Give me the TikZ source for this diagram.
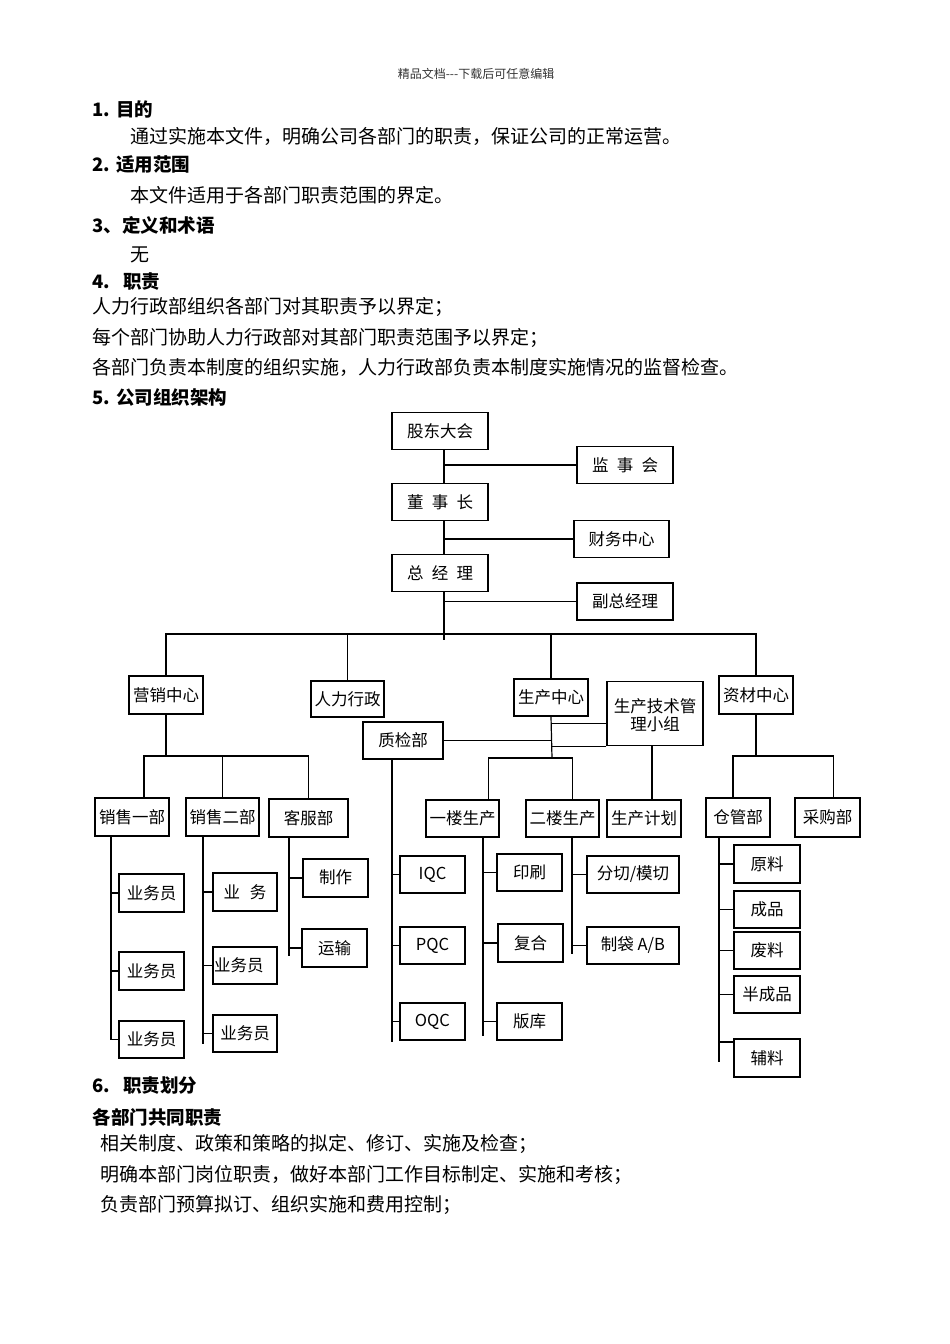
\documentclass[tikz,border=0pt]{standalone}
\usepackage{fontspec}
\setmainfont{Noto Sans CJK SC}
\usetikzlibrary{calc}
\newcommand{\bodyfont}{\fontsize{19}{20}\selectfont}
\newcommand{\headfont}{\fontsize{18.5}{20}\selectfont\bfseries}
\newcommand{\boxfont}{\fontsize{16.5}{18}\selectfont}
\newcommand{\topfont}{\fontsize{12}{14}\selectfont}

\begin{document}
\begin{tikzpicture}[x=1pt,y=-1pt,line width=1.2pt,
    box/.style={draw,inner sep=0pt,font=\boxfont,minimum height=37pt,align=center},
    txt/.style={anchor=west,inner sep=0pt,font=\bodyfont},
    head/.style={anchor=west,inner sep=0pt,font=\headfont}]
  \fill[white] (0,0) rectangle (950,1344);
  \useasboundingbox (0,0) rectangle (950,1344);
  % page text
  \node[font=\topfont,text=black!80] (top) at (476,74) {精品文档-{}-{}-下载后可任意编辑};
  \node[head] (h1) at (92,109) {1. 目的};
  \node[txt] (t1) at (130,136) {通过实施本文件，明确公司各部门的职责，保证公司的正常运营。};
  \node[head] (h2) at (92,165) {2. 适用范围};
  \node[txt] (t2) at (130,195) {本文件适用于各部门职责范围的界定。};
  \node[head] (h3) at (92,225) {3、定义和术语};
  \node[txt] (t3) at (130,255) {无};
  \node[head] (h4) at (92,282) {4.\hspace{0.7em}职责};
  \node[txt] (t4a) at (92,307) {人力行政部组织各部门对其职责予以界定；};
  \node[txt] (t4b) at (92,338) {每个部门协助人力行政部对其部门职责范围予以界定；};
  \node[txt] (t4c) at (92,367) {各部门负责本制度的组织实施，人力行政部负责本制度实施情况的监督检查。};
  \node[head] (h5) at (92,397) {5. 公司组织架构};
  \node[head] (h6) at (92,1086) {6.\hspace{0.7em}职责划分};
  \node[head] (h6a) at (92,1117) {各部门共同职责};
  \node[txt] (t6a) at (100,1144) {相关制度、政策和策略的拟定、修订、实施及检查；};
  \node[txt] (t6b) at (100,1175) {明确本部门岗位职责，做好本部门工作目标制定、实施和考核；};
  \node[txt] (t6c) at (100,1205) {负责部门预算拟订、组织实施和费用控制；};

  % top levels
  \node[box,minimum width=96pt] (gd) at (440,431) {股东大会};
  \node[box,minimum width=96pt] (dsz) at (440,502) {董\hspace{0.5em}事\hspace{0.5em}长};
  \node[box,minimum width=96pt] (zjl) at (440,573) {总\hspace{0.5em}经\hspace{0.5em}理};
  \node[box,minimum width=96pt] (jsh) at (625,465) {监\hspace{0.5em}事\hspace{0.5em}会};
  \node[box,minimum width=95pt] (cw) at (621.5,539) {财务中心};
  \node[box,minimum width=96pt] (fzjl) at (625,601.5) {副总经理};
  \coordinate (trunk) at (444,640);
  \draw ([xshift=4pt]gd.south) -- ([xshift=4pt]dsz.north);
  \draw ([xshift=4pt]dsz.south) -- ([xshift=4pt]zjl.north);
  \draw ([xshift=4pt]zjl.south) -- (trunk);
  \foreach \n in {jsh,cw,fzjl}
    \draw (\n.west) -- (\n.west -| trunk);

  % centres
  \node[box,minimum width=74pt,minimum height=38pt] (yx) at (166,695) {营销中心};
  \node[box,minimum width=73pt,minimum height=36pt] (rl) at (347.5,699) {人力行政};
  \node[box,minimum width=74pt] (sc) at (551,697.5) {生产中心};
  \node[box,minimum width=96pt,minimum height=64pt,anchor=north] (js) at (655,681)
    {\rule{0pt}{17pt}生产技术管\\理小组};
  \node[box,minimum width=74pt,minimum height=38pt] (zc) at (756,695) {资材中心};
  \node[box,minimum width=80pt] (zj) at (403,740.5) {质检部};
  \coordinate (bus) at (0,634);
  \draw (yx.north) |- (bus -| zc.north) -- (zc.north);
  \draw (rl.north) -- (rl.north |- bus);
  \draw (sc.north) -- (sc.north |- bus);

  % departments
  \node[box,minimum width=74pt,minimum height=38pt] (xs1) at (132,817) {销售一部};
  \node[box,minimum width=73pt,minimum height=38pt] (xs2) at (222.5,817) {销售二部};
  \node[box,minimum width=79pt,minimum height=38pt] (kf) at (308.5,818) {客服部};
  \node[box,minimum width=73pt] (yl) at (462.5,818.5) {一楼生产};
  \node[box,minimum width=73pt] (el) at (562.5,818.5) {二楼生产};
  \node[box,minimum width=74pt] (jh) at (644,818.5) {生产计划};
  \node[box,minimum width=64pt,minimum height=39pt] (cg) at (738,817.5) {仓管部};
  \node[box,minimum width=65pt,minimum height=39pt] (cgb) at (827.5,817.5) {采购部};
  \coordinate (bus2) at (0,756);
  \draw (yx.south) -- (yx.south |- bus2);
  \draw ([xshift=12pt]xs1.north) |- (bus2 -| kf.north) -- (kf.north);
  \draw (xs2.north) -- (xs2.north |- bus2);
  \draw (zc.south) -- (zc.south |- bus2);
  \draw ([xshift=-5pt]cg.north) |- ([xshift=6pt]cgb.north |- bus2) -- ([xshift=6pt]cgb.north);
  \coordinate (sctr) at (552,758);
  \draw (sc.south) -- (sctr);
  \draw ([yshift=-10pt]js.west) -- ([yshift=-10pt]js.west -| sc.south);
  \draw (zj.east) -- (zj.east -| sc.south);
  \draw (js.south west) -- (js.south west -| sc.south);
  \draw ([xshift=26pt]yl.north) |- ([xshift=10pt]el.north |- sctr) -- ([xshift=10pt]el.north);
  \draw ([xshift=8pt]jh.north) -- ([xshift=8pt]jh.north |- js.south);

  % staff boxes
  \node[box,minimum width=65pt,minimum height=38pt] (ywy11) at (151.5,893) {业务员};
  \node[box,minimum width=65pt,minimum height=38pt] (ywy12) at (151.5,971) {业务员};
  \node[box,minimum width=65pt] (ywy13) at (151.5,1039.5) {业务员};
  \node[box,minimum width=64pt,minimum height=38pt] (ywy21) at (245,892) {业\hspace{0.6em}务};
  \node[box,text width=62pt,align=left,inner xsep=1pt] (ywy22) at (245,965.5) {业务员};
  \node[box,minimum width=64pt] (ywy23) at (245,1033.5) {业务员};
  \node[box,minimum width=65pt,minimum height=38pt] (zz) at (335.5,878) {\raisebox{3pt}{制作}};
  \node[box,minimum width=65pt,minimum height=38pt] (ysh) at (334.5,948) {运输};
  \node[box,minimum width=65pt] (iqc) at (432.5,874.5) {IQC};
  \node[box,minimum width=65pt] (pqc) at (432.5,945.5) {PQC};
  \node[box,minimum width=65pt] (oqc) at (432.5,1021.5) {OQC};
  \node[box,minimum width=65pt] (ysa) at (529.5,872.5) {印刷};
  \node[box,minimum width=65pt,minimum height=38pt] (fh) at (530.5,943) {复合};
  \node[box,minimum width=65pt] (bk) at (529.5,1021.5) {版库};
  \node[box,minimum width=92pt] (fq) at (633,874.5) {分切/模切};
  \node[box,minimum width=92pt] (zd) at (633,945.5) {制袋 A/B};
  \node[box,minimum width=66pt,minimum height=38pt] (ylo) at (767,864) {原料};
  \node[box,minimum width=66pt] (cp) at (767,909.5) {成品};
  \node[box,minimum width=66pt] (fl) at (767,950.5) {废料};
  \node[box,minimum width=66pt] (bcp) at (767,994.5) {半成品};
  \node[box,minimum width=66pt,minimum height=38pt] (fll) at (767,1058) {辅料};

  % spines
  \coordinate (sp1) at ([xshift=-21pt]xs1.south);
  \coordinate (sp2) at ([xshift=-19.5pt]xs2.south);
  \coordinate (sp3) at ([xshift=-19.5pt]kf.south);
  \coordinate (sp4) at ([xshift=-11pt]zj.south);
  \coordinate (sp5) at ([xshift=20.5pt]yl.south);
  \coordinate (sp6) at ([xshift=9.5pt]el.south);
  \coordinate (sp7) at ([xshift=-19pt]cg.south);
  \draw (sp1) -- (sp1 |- ywy13.west);
  \draw (sp2) -- ($(sp2 |- ywy23.west)+(0,10)$);
  \draw (sp3) -- ($(sp3 |- ysh.west)+(0,8)$);
  \draw (sp4) -- ($(sp4 |- oqc.west)+(0,20)$);
  \draw (sp5) -- ($(sp5 |- bk.west)+(0,14)$);
  \draw (sp6) -- ($(sp6 |- zd.west)+(0,8)$);
  \draw (sp7) -- ($(sp7 |- fll.west)+(0,4)$);
  \foreach \n in {ywy11,ywy12,ywy13}
    \draw (\n.west) -- (\n.west -| sp1);
  \foreach \n in {ywy21,ywy22,ywy23}
    \draw (\n.west) -- (\n.west -| sp2);
  \foreach \n in {zz,ysh}
    \draw (\n.west) -- (\n.west -| sp3);
  \foreach \n in {iqc,pqc,oqc}
    \draw (\n.west) -- (\n.west -| sp4);
  \foreach \n in {ysa,fh,bk}
    \draw (\n.west) -- (\n.west -| sp5);
  \foreach \n in {fq,zd}
    \draw (\n.west) -- (\n.west -| sp6);
  \foreach \n in {ylo,cp,fl,bcp}
    \draw (\n.west) -- (\n.west -| sp7);
  \draw ([yshift=16pt]fll.west) -- ([yshift=16pt]fll.west -| sp7);
\end{tikzpicture}
\end{document}
